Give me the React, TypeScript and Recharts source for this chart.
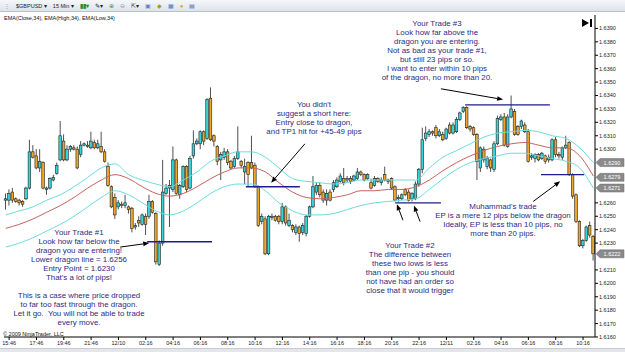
import React from "react";
import { Bar, ComposedChart, Line, ReferenceLine, XAxis, YAxis } from "recharts";

// 15 min GBPUSD candles, [open, high, low, close]
const ohlc: number[][] = [
  [1.6262, 1.6267, 1.6255, 1.6263], [1.6262, 1.627, 1.6258, 1.6267], [1.6268, 1.6271, 1.626, 1.6262],
  [1.6263, 1.6264, 1.626, 1.6261], [1.6262, 1.6263, 1.6258, 1.626], [1.6261, 1.6262, 1.6257, 1.6259],
  [1.6263, 1.6272, 1.6262, 1.6271], [1.6271, 1.6307, 1.627, 1.6298], [1.6298, 1.6303, 1.6293, 1.6294],
  [1.6295, 1.63, 1.6285, 1.6286], [1.6286, 1.63, 1.6283, 1.6291], [1.629, 1.6291, 1.627, 1.6271],
  [1.627, 1.6272, 1.6266, 1.6271], [1.6271, 1.6279, 1.627, 1.6278], [1.6277, 1.6281, 1.6276, 1.6279],
  [1.6282, 1.629, 1.6281, 1.6288], [1.6292, 1.6321, 1.6291, 1.631], [1.6306, 1.6311, 1.6291, 1.6292],
  [1.6292, 1.6303, 1.6291, 1.63], [1.63, 1.6303, 1.6298, 1.6302], [1.6301, 1.6303, 1.6299, 1.63],
  [1.63, 1.6302, 1.6285, 1.6286], [1.6296, 1.6306, 1.6294, 1.6303], [1.6303, 1.6305, 1.6302, 1.6304],
  [1.6303, 1.6306, 1.6301, 1.6302], [1.6301, 1.6313, 1.63, 1.6306], [1.6305, 1.6307, 1.63, 1.6301],
  [1.6301, 1.6307, 1.63, 1.6304], [1.6302, 1.6313, 1.6297, 1.6298], [1.6298, 1.63, 1.629, 1.6291],
  [1.6287, 1.629, 1.6272, 1.6273], [1.6272, 1.6273, 1.6256, 1.6257], [1.6264, 1.6267, 1.6248, 1.6251],
  [1.6257, 1.6262, 1.6255, 1.626], [1.6259, 1.6261, 1.6256, 1.6258], [1.6258, 1.6266, 1.6256, 1.626],
  [1.6257, 1.6258, 1.6252, 1.6255], [1.6256, 1.6257, 1.6238, 1.6241], [1.6242, 1.6245, 1.624, 1.6243],
  [1.6247, 1.625, 1.6242, 1.6245], [1.6244, 1.6252, 1.6243, 1.6251], [1.625, 1.6252, 1.6236, 1.6244],
  [1.625, 1.6266, 1.6248, 1.6261], [1.6261, 1.6262, 1.6252, 1.6253], [1.6252, 1.6253, 1.6214, 1.6216],
  [1.6214, 1.6232, 1.6213, 1.623], [1.623, 1.6292, 1.6228, 1.6268], [1.6267, 1.6274, 1.6266, 1.6271],
  [1.6273, 1.6277, 1.6242, 1.6271], [1.627, 1.6302, 1.6268, 1.6292], [1.6292, 1.6293, 1.6266, 1.6267],
  [1.6266, 1.6274, 1.6263, 1.6273], [1.6272, 1.6288, 1.6271, 1.6287], [1.6287, 1.6288, 1.6268, 1.627],
  [1.6271, 1.6295, 1.627, 1.6293], [1.6295, 1.6314, 1.6293, 1.6304], [1.6304, 1.6308, 1.6303, 1.6306],
  [1.6304, 1.6314, 1.63, 1.6313], [1.6313, 1.6314, 1.6303, 1.6306], [1.6308, 1.6338, 1.6307, 1.6337],
  [1.6338, 1.6346, 1.6306, 1.6307], [1.631, 1.6311, 1.6302, 1.6306], [1.6302, 1.6303, 1.6288, 1.6291],
  [1.6292, 1.6298, 1.6277, 1.6296], [1.6294, 1.6301, 1.6292, 1.6298], [1.6298, 1.63, 1.6288, 1.629],
  [1.6291, 1.6292, 1.6285, 1.6286], [1.6287, 1.6295, 1.6286, 1.6293], [1.6293, 1.6317, 1.6292, 1.6298],
  [1.6291, 1.6292, 1.6286, 1.6288], [1.6283, 1.6293, 1.6274, 1.6287], [1.629, 1.6291, 1.6272, 1.6281],
  [1.629, 1.631, 1.6285, 1.6286], [1.6288, 1.629, 1.6271, 1.6272], [1.6272, 1.6273, 1.6242, 1.6243],
  [1.6246, 1.6252, 1.6244, 1.625], [1.6248, 1.625, 1.6221, 1.6222], [1.6222, 1.6251, 1.6221, 1.625],
  [1.6249, 1.6252, 1.6247, 1.625], [1.625, 1.6251, 1.6246, 1.6247], [1.625, 1.6251, 1.6244, 1.6246],
  [1.6246, 1.626, 1.6244, 1.6257], [1.6257, 1.6258, 1.6243, 1.6245], [1.6243, 1.6252, 1.6242, 1.6247],
  [1.6243, 1.6244, 1.6238, 1.624], [1.6238, 1.6244, 1.6236, 1.6242], [1.6242, 1.6243, 1.6231, 1.6237],
  [1.6238, 1.6245, 1.6236, 1.6243], [1.6237, 1.6251, 1.6235, 1.625], [1.625, 1.6258, 1.6249, 1.6257],
  [1.6257, 1.628, 1.6256, 1.6272], [1.6268, 1.6275, 1.6266, 1.6273], [1.6273, 1.6275, 1.6264, 1.6266],
  [1.6268, 1.627, 1.626, 1.6262], [1.6262, 1.627, 1.6258, 1.6267], [1.6268, 1.627, 1.6261, 1.6262],
  [1.627, 1.6277, 1.6268, 1.6275], [1.6272, 1.6279, 1.6271, 1.6277], [1.6276, 1.6282, 1.6275, 1.628],
  [1.6278, 1.6286, 1.6273, 1.6275], [1.6277, 1.628, 1.6275, 1.6278], [1.6278, 1.628, 1.6274, 1.6276],
  [1.6277, 1.6281, 1.6276, 1.628], [1.6278, 1.6286, 1.6277, 1.6283], [1.6283, 1.6284, 1.628, 1.6281],
  [1.6281, 1.6282, 1.6276, 1.6277], [1.6278, 1.6282, 1.6277, 1.6281], [1.6275, 1.6278, 1.627, 1.6271],
  [1.6273, 1.628, 1.6272, 1.6278], [1.6278, 1.6279, 1.6275, 1.6276], [1.6275, 1.6279, 1.6273, 1.6277],
  [1.6281, 1.6287, 1.6276, 1.6277], [1.6277, 1.6278, 1.6274, 1.6276], [1.6278, 1.6279, 1.627, 1.6271],
  [1.6272, 1.6273, 1.6261, 1.6262], [1.6263, 1.6266, 1.6261, 1.6264], [1.6263, 1.6267, 1.6262, 1.6266],
  [1.627, 1.6271, 1.6265, 1.6266], [1.6268, 1.627, 1.6261, 1.6262], [1.6263, 1.6268, 1.6261, 1.6267],
  [1.6263, 1.6276, 1.6262, 1.6274], [1.6274, 1.6286, 1.6272, 1.6285], [1.6285, 1.6316, 1.6282, 1.6307],
  [1.6308, 1.6317, 1.6306, 1.6312], [1.6311, 1.6315, 1.6309, 1.6313], [1.6313, 1.6314, 1.631, 1.6312],
  [1.6316, 1.6318, 1.6308, 1.631], [1.631, 1.6315, 1.6309, 1.6313], [1.6311, 1.6313, 1.6306, 1.6307],
  [1.6308, 1.6316, 1.6307, 1.6315], [1.6318, 1.632, 1.6311, 1.6312], [1.6312, 1.632, 1.6311, 1.6318],
  [1.6313, 1.6324, 1.6312, 1.6322], [1.6322, 1.6328, 1.6321, 1.6327], [1.6328, 1.6332, 1.6327, 1.6331],
  [1.6331, 1.6332, 1.6315, 1.6316], [1.6317, 1.6318, 1.6313, 1.6315], [1.6316, 1.6317, 1.631, 1.6311],
  [1.6311, 1.6312, 1.6277, 1.6291], [1.6286, 1.6302, 1.6283, 1.6301], [1.63, 1.6302, 1.629, 1.6292],
  [1.6287, 1.6295, 1.6285, 1.6293], [1.6292, 1.6293, 1.6283, 1.6286], [1.6285, 1.6306, 1.6283, 1.6304],
  [1.6304, 1.6325, 1.6303, 1.6323], [1.6322, 1.6326, 1.6321, 1.6324], [1.6324, 1.6327, 1.6302, 1.6303],
  [1.6302, 1.6326, 1.6301, 1.6324], [1.6324, 1.634, 1.6323, 1.633], [1.6328, 1.633, 1.631, 1.6311],
  [1.6317, 1.6318, 1.631, 1.6311], [1.6317, 1.6322, 1.6315, 1.6321], [1.6318, 1.632, 1.6312, 1.6313],
  [1.6313, 1.6315, 1.629, 1.6291], [1.6294, 1.6297, 1.6292, 1.6295], [1.6293, 1.6297, 1.629, 1.6296],
  [1.6296, 1.6297, 1.6291, 1.6292], [1.6293, 1.6298, 1.6292, 1.6297], [1.6295, 1.6296, 1.6289, 1.6291],
  [1.6292, 1.6296, 1.629, 1.6294], [1.6292, 1.6308, 1.6291, 1.6307], [1.6307, 1.6309, 1.6294, 1.6296],
  [1.6296, 1.6298, 1.6293, 1.6295], [1.6294, 1.6302, 1.6292, 1.6301], [1.6301, 1.631, 1.63, 1.6303],
  [1.6305, 1.6306, 1.628, 1.6281], [1.6281, 1.6282, 1.6263, 1.6265], [1.6266, 1.6267, 1.6245, 1.6246],
  [1.6246, 1.6247, 1.6227, 1.6228], [1.6228, 1.6233, 1.6226, 1.6232], [1.6232, 1.6243, 1.6231, 1.6242],
  [1.6243, 1.6246, 1.6234, 1.6236], [1.6235, 1.6236, 1.6217, 1.6222],
];

// EMA(34) values read every 4th bar
const emaHigh = [
  1.6251, 1.6254, 1.6257, 1.6262, 1.6266, 1.6272, 1.6279, 1.6286, 1.6289, 1.6281,
  1.6277, 1.6274, 1.6272, 1.6277, 1.6283, 1.6291, 1.6295, 1.6298, 1.6298, 1.6294,
  1.6286, 1.6278, 1.6276, 1.6275, 1.6274, 1.6275, 1.6277, 1.6277, 1.6277, 1.6277,
  1.6277, 1.6286, 1.6294, 1.6299, 1.6304, 1.6309, 1.6312, 1.6313, 1.6314, 1.6313,
  1.631, 1.6308, 1.6301, 1.629,
];
const emaClose = [
  1.6241, 1.6244, 1.6248, 1.6253, 1.6258, 1.6264, 1.6271, 1.6277, 1.6281, 1.6278,
  1.6272, 1.6267, 1.6265, 1.6267, 1.6272, 1.6278, 1.6283, 1.6286, 1.6286, 1.6283,
  1.6275, 1.6268, 1.6264, 1.6263, 1.6264, 1.6266, 1.6269, 1.6269, 1.627, 1.627,
  1.6272, 1.6277, 1.6284, 1.629, 1.6295, 1.6299, 1.6302, 1.6304, 1.6305, 1.6303,
  1.6301, 1.6301, 1.6295, 1.628,
];
const emaLow = [
  1.6227, 1.623, 1.6234, 1.6239, 1.6244, 1.625, 1.6257, 1.6264, 1.6269, 1.6266,
  1.626, 1.6254, 1.6251, 1.6254, 1.626, 1.6267, 1.6272, 1.6274, 1.6274, 1.6269,
  1.626, 1.6254, 1.6251, 1.6251, 1.6252, 1.6255, 1.6258, 1.626, 1.6261, 1.6262,
  1.6263, 1.627, 1.6278, 1.6285, 1.629, 1.6293, 1.6295, 1.6297, 1.6297, 1.6295,
  1.6293, 1.6291, 1.6286, 1.6271,
];

const xTickBars = [1, 9, 17, 25, 33, 41, 49, 57, 65, 73, 81, 89, 97, 105, 113, 121, 129, 137, 145, 153, 161, 169];
const xTickLabels = [
  "15:46", "17:46", "19:46", "21:46", "12/10", "02:16", "04:16", "06:16", "08:16", "10:16", "12:16",
  "14:16", "16:16", "18:16", "20:16", "22:16", "12/11", "02:16", "04:16", "06:16", "08:16", "10:16",
];
const yTicks = [
  1.616, 1.617, 1.618, 1.619, 1.62, 1.621, 1.623, 1.624, 1.625, 1.626,
  1.63, 1.631, 1.632, 1.633, 1.634, 1.635, 1.636, 1.637, 1.638, 1.639,
];
const priceTags = [
  { value: 1.629, text: "1.6290" },
  { value: 1.6279, text: "1.6279" },
  { value: 1.6271, text: "1.6271" },
  { value: 1.6222, text: "1.6222" },
];

// entry lines: [fromBar, toBar, price]
const tradeLines = [
  [41.4, 60.4, 1.6231],
  [70.3, 86.1, 1.6272],
  [114.0, 127.4, 1.626],
  [134.5, 159.3, 1.6333],
  [156.7, 169.3, 1.6281],
];
// arrows: [fromBar, fromPrice, toBar, toPrice]
const arrows = [
  [33.5, 1.6227, 42.0, 1.623],
  [87.6, 1.6304, 77.7, 1.6275],
  [127.4, 1.6345, 145.6, 1.6337],
  [116.3, 1.6247, 114.5, 1.6259],
  [121.3, 1.6246, 119.5, 1.6258],
  [154.4, 1.6261, 162.3, 1.6276],
];

const notes = [
  { x: 437, y: 18.5, lines: ["Your Trade #3", "Look how far above the", "dragon you are entering.", "Not as bad as your trade #1,", "but still 23 pips or so.", "I want to enter within 10 pips", "of the dragon, no more than 20."] },
  { x: 314, y: 99.5, lines: ["You didn't", "suggest a short here:", "Entry close to dragon,", "and TP1 hit for +45-49 pips"] },
  { x: 79, y: 227.5, lines: ["Your Trade #1", "Look how far below the", "dragon you are entering!", "Lower dragon line = 1.6256", "Entry Point = 1.6230", "That's a lot of pips!", " ", "This is a case where price dropped", "to far too fast through the dragon.", "Let it go.  You will not be able to trade", "every move."] },
  { x: 410, y: 240.5, lines: ["Your Trade #2", "The difference between", "these two lows is less", "than one pip - you should", "not have had an order so", "close that it would trigger"] },
  { x: 503, y: 201.5, lines: ["Muhammad's trade", "EP is a mere 12 pips below the dragon", "Ideally, EP is less than 10 pips, no", "more than 20 pips."] },
];

const rows = ohlc.map(([o, h, l, c], i) => ({
  i,
  o,
  h,
  l,
  c,
  range: [l, h],
  eh: i % 4 === 0 ? emaHigh[i / 4] : null,
  ec: i % 4 === 0 ? emaClose[i / 4] : null,
  el: i % 4 === 0 ? emaLow[i / 4] : null,
}));

const FONT = "'Liberation Sans', Arial, sans-serif";
const NAVY = "#1c1c8c";

function Candle(props: any) {
  const { x, y, width, height, payload } = props;
  if (!payload) return null;
  const { o, h, l, c } = payload;
  const top = Math.min(y, y + height);
  const span = Math.abs(height);
  const k = h - l > 0 ? span / (h - l) : 0;
  const cx = x + width / 2;
  const bTop = top + (h - Math.max(o, c)) * k;
  const bBot = top + (h - Math.min(o, c)) * k;
  return (
    <g>
      <line x1={cx} x2={cx} y1={top} y2={top + span} stroke="#222" strokeWidth={0.8} />
      <rect
        x={cx - 1.3}
        y={bTop}
        width={2.6}
        height={Math.max(bBot - bTop, 0.8)}
        fill={c >= o ? "#36d4d8" : "#eda52e"}
        stroke="#222"
        strokeWidth={0.6}
      />
    </g>
  );
}

function Arrow(props: any) {
  const { x1, y1, x2, y2 } = props;
  const a = Math.atan2(y2 - y1, x2 - x1);
  const len = 6;
  const w = 2.4;
  const bx = x2 - len * Math.cos(a);
  const by = y2 - len * Math.sin(a);
  const px = -Math.sin(a) * w;
  const py = Math.cos(a) * w;
  return (
    <g>
      <line x1={x1} y1={y1} x2={bx} y2={by} stroke="#000" strokeWidth={1} />
      <polygon points={`${x2},${y2} ${bx + px},${by + py} ${bx - px},${by - py}`} fill="#000" />
    </g>
  );
}

function PriceTag(props: any) {
  const { viewBox, text } = props;
  const x0 = viewBox.x + viewBox.width + 1;
  const y = viewBox.y;
  return (
    <g>
      <polygon
        points={`${x0},${y} ${x0 + 4},${y - 4} ${x0 + 28},${y - 4} ${x0 + 28},${y + 4} ${x0 + 4},${y + 4}`}
        fill="#8a8a8a"
        stroke="#6a6a6a"
        strokeWidth={0.5}
      />
      <text x={x0 + 16} y={y + 2} fontSize={5.5} fill="#fff" textAnchor="middle">
        {text}
      </text>
    </g>
  );
}

function Note({ x, y, lines }: { x: number; y: number; lines: string[] }) {
  return (
    <div
      style={{
        position: "absolute",
        left: x - 110,
        top: y,
        width: 220,
        textAlign: "center",
        fontSize: 7.9,
        lineHeight: "9.1px",
        color: "#2b2b85",
        whiteSpace: "pre",
        pointerEvents: "none",
      }}
    >
      {lines.map((t, k) => (
        <div key={k}>{t}</div>
      ))}
    </div>
  );
}

export default function App() {
  return (
    <div
      style={{
        position: "absolute",
        left: 0,
        top: 0,
        width: 625,
        height: 352,
        overflow: "hidden",
        background: "#fff",
        fontFamily: FONT,
      }}
    >
      <ComposedChart
        width={625}
        height={352}
        data={rows}
        margin={{ top: 15, right: 0, bottom: 3, left: 4 }}
        barCategoryGap={0}
      >
        <XAxis
          dataKey="i"
          ticks={xTickBars}
          interval={0}
          tickFormatter={(v) => xTickLabels[xTickBars.indexOf(v)] ?? ""}
          tick={{ fontSize: 5.5, fill: "#222" }}
          tickSize={3}
          tickMargin={1}
          height={12}
          axisLine={{ stroke: "#000" }}
          tickLine={{ stroke: "#000" }}
        />
        <XAxis xAxisId="num" type="number" dataKey="i" domain={[-0.5, 172.5]} allowDataOverflow hide />
        <YAxis
          orientation="right"
          domain={[1.616, 1.64]}
          allowDataOverflow
          ticks={yTicks}
          interval={0}
          tickFormatter={(v) => v.toFixed(4)}
          tick={{ fontSize: 5.5, fill: "#222" }}
          tickSize={3}
          tickMargin={1}
          width={30}
          axisLine={{ stroke: "#000" }}
          tickLine={{ stroke: "#000" }}
        />
        <Line dataKey="eh" type="monotone" stroke="#6fdadd" strokeWidth={1} dot={false} connectNulls isAnimationActive={false} />
        <Line dataKey="ec" type="monotone" stroke="#c4635a" strokeWidth={1} dot={false} connectNulls isAnimationActive={false} />
        <Line dataKey="el" type="monotone" stroke="#6fdadd" strokeWidth={1} dot={false} connectNulls isAnimationActive={false} />
        <Bar dataKey="range" shape={Candle} isAnimationActive={false} />
        {tradeLines.map(([a, b, p], k) => (
          <ReferenceLine
            key={"t" + k}
            xAxisId="num"
            segment={[{ x: a, y: p }, { x: b, y: p }]}
            stroke={NAVY}
            strokeWidth={1.4}
          />
        ))}
        {arrows.map(([a, p, b, q], k) => (
          <ReferenceLine
            key={"a" + k}
            xAxisId="num"
            segment={[{ x: a, y: p }, { x: b, y: q }]}
            shape={Arrow}
          />
        ))}
        {priceTags.map((t) => (
          <ReferenceLine
            key={t.text}
            y={t.value}
            stroke="none"
            label={<PriceTag text={t.text} />}
          />
        ))}
      </ComposedChart>

      {/* toolbar */}
      <div
        style={{
          position: "absolute",
          left: 0,
          top: 0,
          width: 625,
          height: 12,
          background: "linear-gradient(#f5f7fa, #dde3ea)",
          borderBottom: "1px solid #b8c1cc",
          fontSize: 5.5,
          color: "#222",
          display: "flex",
          alignItems: "center",
          gap: 6,
          paddingLeft: 4,
          boxSizing: "border-box",
        }}
      >
        <span style={{ color: "#999" }}>⋮</span>
        <span>$GBPUSD ▾</span>
        <span>15 Min ▾</span>
        <span style={{ color: "#2a8a2a", fontWeight: "bold" }}>▮▮▾</span>
        <span>✎▾</span>
        <span style={{ color: "#3a9a3a" }}>⊕</span>
        <span style={{ color: "#999" }}>⊖</span>
        <span>⇱▾</span>
        <span style={{ color: "#6080c0" }}>▣</span>
        <span style={{ color: "#a0a020" }}>◆</span>
        <span style={{ color: "#4a7ac0" }}>▦</span>
        <span style={{ color: "#e0a000" }}>●</span>
        <span style={{ color: "#4a6ab0" }}>▤</span>
      </div>

      <div style={{ position: "absolute", left: 4, top: 15, fontSize: 5.5, color: "#111" }}>
        EMA(Close,34), EMA(High,34), EMA(Low,34)
      </div>
      <div style={{ position: "absolute", left: 3, top: 331, fontSize: 5.5, color: "#111" }}>
        © 2009 NinjaTrader, LLC
      </div>
      <svg style={{ position: "absolute", left: 581, top: 18 }} width={12} height={10}>
        <polygon points="1,1 8,5 1,9" fill="#000" />
        <rect x={9} y={1} width={2} height={8} fill="#000" />
      </svg>
      <div
        style={{
          position: "absolute",
          left: 0,
          top: 348,
          width: 625,
          height: 4,
          background: "#e4e6ea",
          borderTop: "1px solid #c8ccd2",
        }}
      />

      {notes.map((n, k) => (
        <Note key={k} x={n.x} y={n.y} lines={n.lines} />
      ))}
    </div>
  );
}
